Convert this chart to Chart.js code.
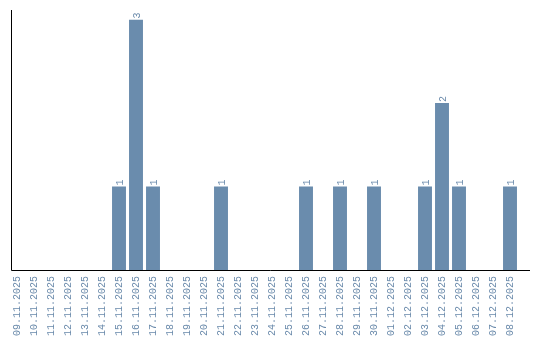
<!DOCTYPE html>
<html>
<head>
<meta charset="utf-8">
<script src="https://cdn.jsdelivr.net/npm/chart.js@4/dist/chart.umd.min.js"></script>
<style>
  html, body { margin: 0; padding: 0; background: #fff; }
  canvas { display: block; }
</style>
</head>
<body>
<canvas id="chart" width="540" height="340"></canvas>
<script>
// dates on the x axis
var days = [
    '09.11.2025', '10.11.2025', '11.11.2025', '12.11.2025', '13.11.2025', '14.11.2025',
    '15.11.2025', '16.11.2025', '17.11.2025', '18.11.2025', '19.11.2025', '20.11.2025',
    '21.11.2025', '22.11.2025', '23.11.2025', '24.11.2025', '25.11.2025', '26.11.2025',
    '27.11.2025', '28.11.2025', '29.11.2025', '30.11.2025', '01.12.2025', '02.12.2025',
    '03.12.2025', '04.12.2025', '05.12.2025', '06.12.2025', '07.12.2025', '08.12.2025'
];
// count per day
var counts = [
    0, 0, 0, 0, 0, 0,
    1, 3, 1, 0, 0, 0,
    1, 0, 0, 0, 0, 1,
    0, 1, 0, 1, 0, 0,
    1, 2, 1, 0, 0, 1
];

var barColor = '#6a8cad';
var textColor = '#6a8aab';
var monoFont = '"Liberation Mono", monospace';

// value labels turned on their side above each bar
var valueLabels = {
    id: 'valueLabels',
    afterDatasetsDraw: function (chart) {
        var ctx = chart.ctx;
        var meta = chart.getDatasetMeta(0);
        ctx.save();
        ctx.font = '10px ' + monoFont;
        ctx.fillStyle = textColor;
        meta.data.forEach(function (bar, i) {
            var v = chart.data.datasets[0].data[i];
            if (!v) return;
            ctx.save();
            ctx.translate(bar.x, bar.y - 1);
            ctx.rotate(-Math.PI / 2);
            ctx.textAlign = 'left';
            ctx.textBaseline = 'middle';
            ctx.fillText(String(v), 0, 1);
            ctx.restore();
        });
        ctx.restore();
    }
};

// the two black axis lines
var axisLines = {
    id: 'axisLines',
    afterDraw: function (chart) {
        var ctx = chart.ctx;
        var a = chart.chartArea;
        var x0 = Math.round(a.left + 2) + 0.5;
        var y0 = Math.round(a.bottom) + 0.5;
        ctx.save();
        ctx.strokeStyle = '#000';
        ctx.lineWidth = 1;
        ctx.beginPath();
        ctx.moveTo(x0, a.top - 9.5);
        ctx.lineTo(x0, y0);
        ctx.lineTo(chart.width - 10, y0);
        ctx.stroke();
        ctx.restore();
    }
};

var ctx = document.getElementById('chart').getContext('2d');
var chart = new Chart(ctx, {
    type: 'bar',
    data: {
        labels: days,
        datasets: [{
            data: counts,
            backgroundColor: barColor,
            borderWidth: 0,
            categoryPercentage: 1,
            barPercentage: 0.82
        }]
    },
    options: {
        responsive: false,
        animation: false,
        maintainAspectRatio: false,
        devicePixelRatio: 1,
        layout: {
            padding: { left: 8.5, right: 21.5, top: 19.5, bottom: -2 }
        },
        plugins: {
            legend: { display: false },
            tooltip: { enabled: false }
        },
        scales: {
            x: {
                offset: true,
                grid: { display: false, drawTicks: false },
                border: { display: false },
                ticks: {
                    autoSkip: false,
                    minRotation: 90,
                    maxRotation: 90,
                    padding: 6,
                    color: textColor,
                    font: { family: monoFont, size: 10 }
                }
            },
            y: {
                display: false,
                min: 0,
                max: 3
            }
        }
    },
    plugins: [valueLabels, axisLines]
});
</script>
</body>
</html>
